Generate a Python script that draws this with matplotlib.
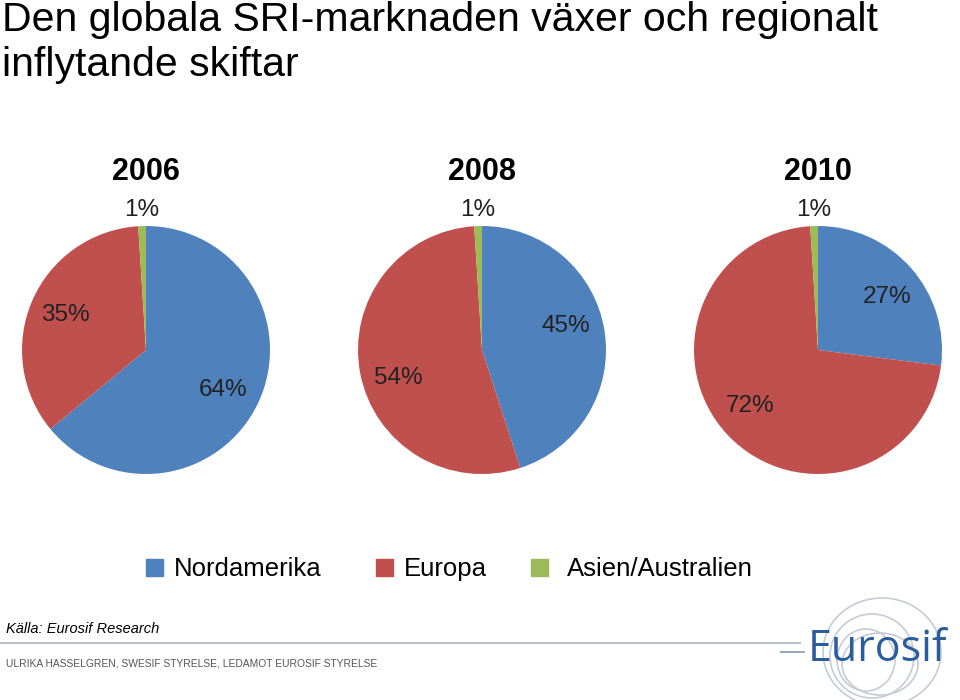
import numpy as np
import matplotlib.pyplot as plt
from matplotlib.patches import Ellipse
from matplotlib.lines import Line2D

plt.rcParams['font.family'] = ['Liberation Sans', 'DejaVu Sans']

years = ['2006', '2008', '2010']
regions = ['Nordamerika', 'Europa', 'Asien/Australien']
nordamerika = [64, 45, 27]
europa = [35, 54, 72]
asien = [1, 1, 1]
colors = ['#4F81BD', '#C0504D', '#9BBB59']

title = 'Den globala SRI-marknaden växer och regionalt\ninflytande skiftar'
source = 'Källa: Eurosif Research'
footer = 'ULRIKA HASSELGREN, SWESIF STYRELSE, LEDAMOT EUROSIF STYRELSE'

W, H = 960, 700
fig = plt.figure(figsize=(9.6, 7.0), dpi=100)

def px_axes(cx, cy, r):
    return fig.add_axes([(cx - r) / W, (H - cy - r) / H, 2 * r / W, 2 * r / H])

centers = [146, 482, 818]
cy, R = 350, 124
label_dist = [0.70, 0.71, 1.13]
angle_shift = [[-2, 0, 0], [7, 8, 0], [-4, -4, 0]]

for i, yr in enumerate(years):
    ax = px_axes(centers[i], cy, R)
    vals = [nordamerika[i], europa[i], asien[i]]
    wedges, _ = ax.pie(vals, colors=colors, startangle=90, counterclock=False,
                       radius=1.0, wedgeprops=dict(linewidth=0))
    ax.set_xlim(-1, 1)
    ax.set_ylim(-1, 1)
    ax.set_aspect('auto')
    ax.axis('off')
    for j, w in enumerate(wedges):
        mid = np.deg2rad((w.theta1 + w.theta2) / 2 + angle_shift[i][j])
        d = label_dist[j]
        ax.text(d * np.cos(mid), d * np.sin(mid), f'{vals[j]}%', ha='center',
                va='center', fontsize=17.5, color='#222222', clip_on=False)
    fig.text(centers[i] / W, 1 - 172 / H, yr, ha='center', va='center',
             fontsize=22, fontweight='bold', color='black')

# Title
fig.text(2 / W, 1 - 1 / H, title, ha='left', va='top', fontsize=29.5,
         color='black', linespacing=1.22)

# Legend
leg_x = [146, 376, 531]
txt_x = [174, 404, 567]
for k, name in enumerate(regions):
    fig.patches.append(plt.Rectangle((leg_x[k] / W, 1 - 576 / H), 17 / W, 17 / H,
                                     transform=fig.transFigure, color=colors[k]))
    fig.text(txt_x[k] / W, 1 - 569 / H, name, ha='left', va='center',
             fontsize=18.5, color='black')

# Source and footer
fig.text(6 / W, 1 - 629 / H, source, ha='left', va='center', fontsize=10.5,
         style='italic', color='black')
fig.add_artist(Line2D([0, 800 / W], [1 - 643 / H, 1 - 643 / H],
                      transform=fig.transFigure, color='#B4C0CE', linewidth=1.5))
fig.text(6 / W, 1 - 663 / H, footer, ha='left', va='center', fontsize=7.4,
         color='#555555')

# Logo
lax = fig.add_axes([780 / W, 0, 180 / W, 110 / H])
lax.set_xlim(780, 960)
lax.set_ylim(700, 590)
lax.axis('off')
ring_col = '#C5CCD6'
for (ex, ey, ew, eh) in [(882, 652, 118, 108), (872, 656, 84, 84), (866, 660, 58, 62),
                          (880, 664, 76, 62)]:
    lax.add_patch(Ellipse((ex, ey), ew, eh, fill=False, edgecolor=ring_col, linewidth=1.2))
lax.plot([780, 804], [652, 652], color='#8FA0B8', linewidth=1.3)
lax.text(877, 650, 'Eurosif', ha='center', va='center', fontsize=31,
         color='#2B5C9C', family=['Open Sans', 'DejaVu Sans'])

fig.savefig('out.png', dpi=100)
